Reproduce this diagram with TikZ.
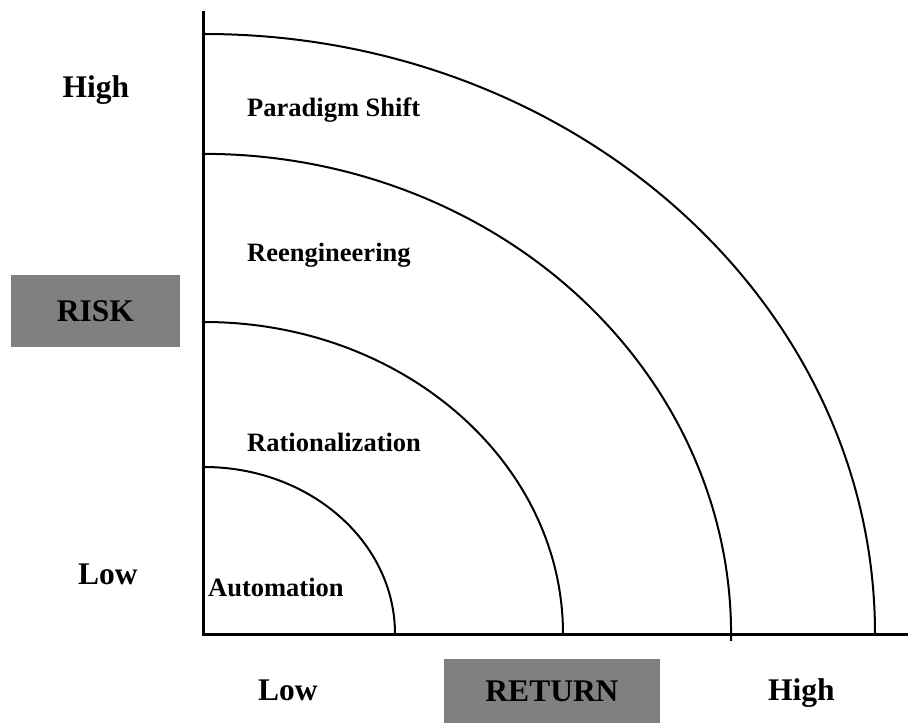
\documentclass[tikz,border=0pt]{standalone}
\usepackage{fontspec}
\setmainfont{Liberation Serif}
\begin{document}
\begin{tikzpicture}[x=1pt,y=1pt,
  axisline/.style={line width=3pt},
  zone/.style={line width=2pt},
  biglabel/.style={font=\bfseries\fontsize{31.5}{31.5}\selectfont, inner sep=0pt},
  zonelabel/.style={font=\bfseries\fontsize{26.5}{26.5}\selectfont, inner sep=0pt, anchor=base west},
  greybox/.style={fill=gray, inner sep=0pt, font=\bfseries\fontsize{31.5}{31.5}\selectfont}
]
\useasboundingbox (0,0) rectangle (913,726);
% origin of the risk/return axes
\coordinate (o) at (203.5,92);
\coordinate (ytop) at (203.5,715);
\coordinate (xend) at (908,92);
% quarter-ellipse boundaries between the zones
\draw[zone] (204+191,92) arc[start angle=0,end angle=90,x radius=191,y radius=167];
\draw[zone] (204+359,92) arc[start angle=0,end angle=90,x radius=359,y radius=312];
\draw[zone] (204+527,85) arc[start angle=-0.85,end angle=90,x radius=527,y radius=480];
\draw[zone] (204+671,92) arc[start angle=0,end angle=90,x radius=671,y radius=600];
% axes
\draw[axisline] (o) -- (ytop);
\draw[axisline] ([xshift=-1.5pt]o) -- (xend);
% axis titles
\node[greybox, minimum width=169, minimum height=72] (risk) at (95.5,415) {RISK};
\node[greybox, minimum width=216, minimum height=64] (ret) at (552,35) {RETURN};
% scale ends
\node[biglabel, anchor=base west] (yhigh) at (62.5,628) {High};
\node[biglabel, anchor=base west] (ylow) at (78,141) {Low};
\node[biglabel, anchor=base west] (xlow) at (258,26) {Low};
\node[biglabel, anchor=base west] (xhigh) at (768,26) {High};
% zone names
\node[zonelabel] (ps) at (247,609) {Paradigm Shift};
\node[zonelabel] (re) at (247,464) {Reengineering};
\node[zonelabel] (ra) at (247,274) {Rationalization};
\node[zonelabel] (au) at (208,130) {Automation};
\end{tikzpicture}
\end{document}
